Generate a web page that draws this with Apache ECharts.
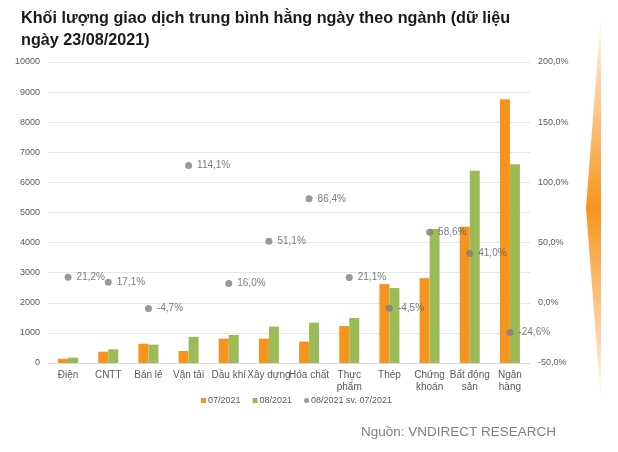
<!DOCTYPE html>
<html><head><meta charset="utf-8">
<script src="https://cdn.jsdelivr.net/npm/echarts@6/dist/echarts.min.js"></script>
<style>html,body{margin:0;padding:0;background:#fff}#c{width:618px;height:452px}</style>
</head><body><div id="c"></div>
<script>
const categories = ['Điện','CNTT','Bán lẻ','Vận tải','Dầu khí','Xây dựng','Hóa chất','Thực\nphẩm','Thép','Chứng\nkhoán','Bất động\nsản','Ngân\nhàng'];
const jul2021 = [140, 375, 640, 400, 810, 810, 710, 1230, 2620, 2820, 4530, 8760];
const aug2021 = [180, 455, 610, 870, 930, 1210, 1340, 1495, 2490, 4450, 6390, 6600];
const changePct = [21.2, 17.1, -4.7, 114.1, 16.0, 51.1, 86.4, 21.1, -4.5, 58.6, 41.0, -24.6];
const leftTicks = {min: 0, max: 10000, interval: 1000};
const rightTicks = {min: -50, max: 200, interval: 50};

const fmtPct = v => v.toFixed(1).replace('.', ',') + '%';
const chart = echarts.init(document.getElementById('c'));
const txt = '#595959';
const ff = 'Liberation Sans, Arial, sans-serif';
chart.setOption({
  animation: false,
  textStyle: {fontFamily: ff},
  title: {
    text: 'Khối lượng giao dịch trung bình hằng ngày theo ngành (dữ liệu\nngày 23/08/2021)',
    left: 16, top: 3,
    textStyle: {fontSize: 16.2, fontWeight: 'bold', color: '#1a1a1a', lineHeight: 22, fontFamily: ff}
  },
  graphic: [
    {type: 'polygon', shape: {points: [[601, 14], [601, 402], [586, 208]]},
     style: {fill: new echarts.graphic.LinearGradient(0, 0, 0, 1, [
       {offset: 0, color: 'rgba(247,148,29,0)'},
       {offset: 0.15, color: 'rgba(247,148,29,0.35)'},
       {offset: 0.5, color: 'rgba(247,148,29,1)'},
       {offset: 0.85, color: 'rgba(247,148,29,0.35)'},
       {offset: 1, color: 'rgba(247,148,29,0)'}])}},
    {type: 'text', left: 361, top: 425,
     style: {text: 'Nguồn: VNDIRECT RESEARCH', fill: '#808080', fontSize: 13.5, fontFamily: ff}}
  ],
  legend: {
    top: 396, left: 201, padding: 0,
    itemWidth: 5, itemHeight: 5, itemGap: 12,
    textStyle: {fontSize: 9, color: txt, padding: [0,0,0,-3]},
    data: [
      {name: '07/2021', icon: 'rect'},
      {name: '08/2021', icon: 'rect'},
      {name: '08/2021 sv. 07/2021', icon: 'circle'}
    ]
  },
  grid: {left: 48, right: 88, top: 62, height: 301},
  xAxis: {
    type: 'category', data: categories,
    axisLine: {lineStyle: {color: '#d9d9d9'}},
    axisTick: {show: false},
    axisLabel: {color: txt, fontSize: 10, interval: 0, margin: 6, lineHeight: 12}
  },
  yAxis: [
    {type: 'value', min: leftTicks.min, max: leftTicks.max, interval: leftTicks.interval,
     axisLabel: {color: txt, fontSize: 9, margin: 8, formatter: v => String(v)},
     axisLine: {show: false}, axisTick: {show: false},
     splitLine: {lineStyle: {color: '#e6e6e6'}}},
    {type: 'value', min: rightTicks.min, max: rightTicks.max, interval: rightTicks.interval,
     axisLabel: {color: txt, fontSize: 9, margin: 8, formatter: v => fmtPct(v)},
     axisLine: {show: false}, axisTick: {show: false}, splitLine: {show: false}}
  ],
  series: [
    {name: '07/2021', type: 'bar', data: jul2021, barWidth: 10, barGap: '0%', itemStyle: {color: '#F7941D'}},
    {name: '08/2021', type: 'bar', data: aug2021, barWidth: 10, barGap: '0%', itemStyle: {color: '#9BBB59'}},
    {name: '08/2021 sv. 07/2021', type: 'scatter', yAxisIndex: 1, data: changePct,
     symbolSize: 7, itemStyle: {color: '#808080'},
     label: {show: true, position: 'right', distance: 5, color: txt, fontSize: 10, formatter: p => fmtPct(p.value)}}
  ]
});
</script></body></html>
